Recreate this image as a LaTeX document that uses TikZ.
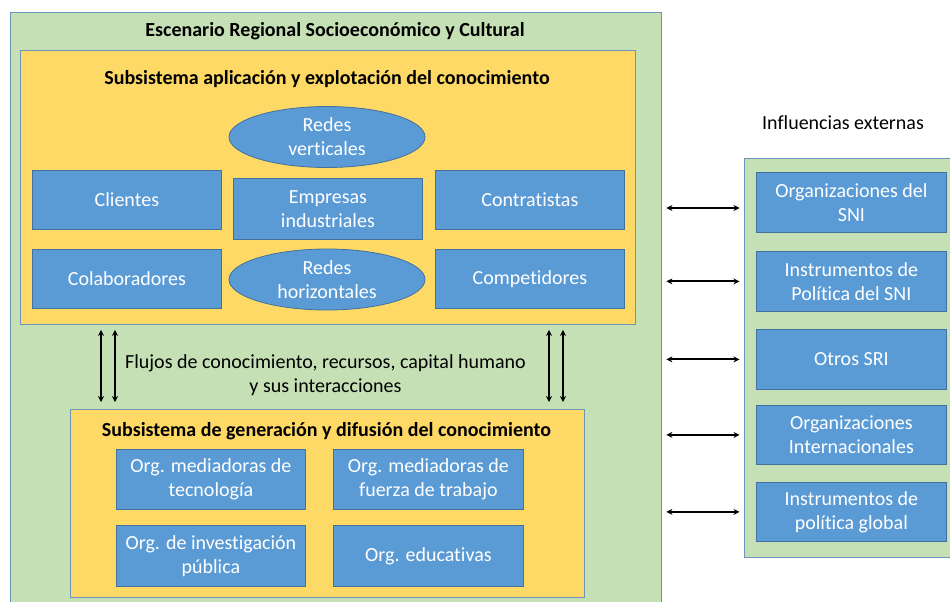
\documentclass[tikz,border=0pt]{standalone}
\usepackage{fontspec}
\setmainfont{Carlito}[Ligatures=NoCommon]
\usetikzlibrary{shapes.geometric,arrows.meta}
\definecolor{paneGreen}{HTML}{C5E0B4}
\definecolor{subYellow}{HTML}{FFD966}
\definecolor{unitBlue}{HTML}{5B9BD5}
\definecolor{edgeBlue}{HTML}{41719C}
\definecolor{paneEdge}{HTML}{6F93BB}
\begin{document}
\begin{tikzpicture}[x=1pt,y=-1pt,
  pane/.style={draw=paneEdge, line width=0.9pt, fill=paneGreen, inner sep=0pt, anchor=north west},
  subsys/.style={draw=paneEdge, line width=0.9pt, fill=subYellow, inner sep=0pt, anchor=north west},
  unit/.style={draw=edgeBlue, line width=0.8pt, fill=unitBlue, text=white, inner sep=0pt,
    anchor=north west, align=center, font=\fontsize{20}{24}\selectfont},
  net/.style={unit, ellipse, anchor=center, inner xsep=-6pt, inner ysep=-8pt,
    minimum width=196pt, minimum height=61pt},
  heading/.style={font=\fontsize{20}{24}\selectfont\bfseries, inner sep=0pt},
  plain/.style={font=\fontsize{20}{24}\selectfont, inner sep=0pt, align=center},
  flow/.style={{Stealth[length=6pt,width=6pt]}-{Stealth[length=6pt,width=6pt]}, line width=1.4pt},
  link/.style={{Stealth[length=6pt,width=6pt]}-{Stealth[length=6pt,width=6pt]}, line width=2pt}
]
\useasboundingbox (0,0) rectangle (950,602);

% regional scenario and the external influences
\node[pane, minimum width=651pt, minimum height=610pt] (outer) at (9.5,12) {};
\node[heading] (outerT) at (335,31) {Escenario Regional Socioeconómico y Cultural};
\node[plain] (extT) at (843,123) {Influencias externas};
\node[pane, minimum width=220pt, minimum height=399pt] (ext) at (743.5,158) {};

% application and exploitation subsystem
\node[subsys, minimum width=615pt, minimum height=274pt] (app) at (20,50) {};
\node[heading] (appT) at (327,79) {Subsistema aplicación y explotación del conocimiento};
\node[net] (rv) at (327,137) {Redes\\verticales};
\node[unit, minimum width=189pt, minimum height=59pt] (cli) at (32,170) {Clientes};
\node[unit, minimum width=189pt, minimum height=61pt] (emp) at (233,178) {Empresas\\industriales};
\node[unit, minimum width=189pt, minimum height=59pt] (con) at (435,170) {Contratistas};
\node[unit, minimum width=189pt, minimum height=59pt] (col) at (32,249) {Colaboradores};
\node[net] (rh) at (327,279.5) {Redes\\horizontales};
\node[unit, minimum width=189pt, minimum height=59pt] (com) at (435,249) {Competidores};

% generation and diffusion subsystem
\node[subsys, minimum width=514pt, minimum height=188pt] (gen) at (70,409) {};
\node[heading] (genT) at (326.5,431) {Subsistema de generación y difusión del conocimiento};
\node[unit, minimum width=189pt, minimum height=60pt] (g1) at (116,449) {Org. mediadoras de\\tecnología};
\node[unit, minimum width=190pt, minimum height=60pt] (g2) at (333,449) {Org. mediadoras de\\fuerza de trabajo};
\node[unit, minimum width=189pt, minimum height=61pt] (g3) at (116,525) {Org. de investigación\\pública};
\node[unit, minimum width=190pt, minimum height=61pt] (g4) at (333,525) {Org. educativas};

% flows between the subsystems
\node[plain] (flowT) at (325.5,375) {Flujos de conocimiento, recursos, capital humano\\y sus interacciones};
\coordinate (fa) at (101,0);
\coordinate (fb) at (115,0);
\coordinate (fc) at (549,0);
\coordinate (fd) at (563,0);
\foreach \c in {fa,fb,fc,fd}
  \draw[flow, shorten <=5pt, shorten >=7pt] (app.south -| \c) -- (gen.north -| \c);

% external influence units
\node[unit, minimum width=190pt, minimum height=60pt] (e1) at (756,172) {Organizaciones del\\SNI};
\node[unit, minimum width=190pt, minimum height=60pt] (e2) at (756,251) {Instrumentos de\\Política del SNI};
\node[unit, minimum width=190pt, minimum height=60pt] (e3) at (756,329) {Otros SRI};
\node[unit, minimum width=190pt, minimum height=59pt] (e4) at (756,405) {Organizaciones\\Internacionales};
\node[unit, minimum width=190pt, minimum height=59pt] (e5) at (756,482) {Instrumentos de\\política global};

% links between the scenario and the external influences
\coordinate (l1) at (0,208);
\draw[link, shorten <=5pt, shorten >=4pt] (outer.east |- l1) -- (ext.west |- l1);
\foreach \e in {e2,e3,e4,e5}
  \draw[link, shorten <=5pt, shorten >=4pt] (outer.east |- \e) -- (ext.west |- \e);
\end{tikzpicture}
\end{document}
